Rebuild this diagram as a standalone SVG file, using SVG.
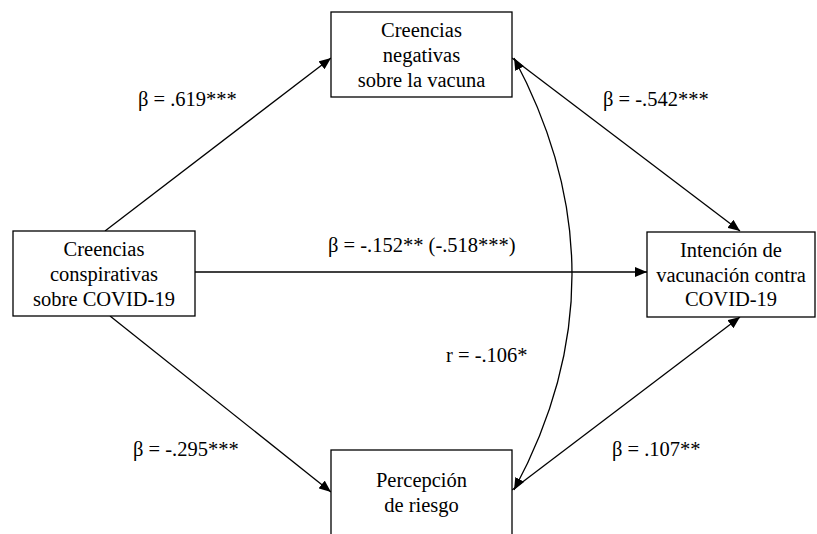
<svg xmlns="http://www.w3.org/2000/svg" width="817" height="534" viewBox="0 0 817 534">
<style>
.box{fill:#fff;stroke:#000;stroke-width:1.3}
.t{font-family:'Liberation Serif','Times New Roman','DejaVu Serif',serif;font-size:20.5px;fill:#000}
.c{text-anchor:middle}
.ln{fill:none;stroke:#000;stroke-width:1.3}
</style>
<defs>
<marker id="ah" viewBox="0 0 12 10" refX="12" refY="5" markerWidth="12" markerHeight="10" markerUnits="userSpaceOnUse" orient="auto-start-reverse">
<path d="M0,0 L12,5 L0,10 Z" fill="#000"/>
</marker>
</defs>
<rect width="817" height="534" fill="#fff"/>
<g id="connectors">
<line class="ln" x1="105" y1="231" x2="331" y2="58" marker-end="url(#ah)"/>
<line class="ln" x1="195" y1="272" x2="647" y2="272" marker-end="url(#ah)"/>
<line class="ln" x1="110" y1="316" x2="331" y2="492" marker-end="url(#ah)"/>
<line class="ln" x1="512" y1="58" x2="740" y2="231" marker-end="url(#ah)"/>
<line class="ln" x1="512" y1="490" x2="740" y2="317" marker-end="url(#ah)"/>
<path class="ln" d="M514,58 Q630,275 514,490" marker-start="url(#ah)" marker-end="url(#ah)"/>
</g>
<g id="n-negativas">
<rect class="box" x="331" y="12" width="181" height="85"/>
<text class="t c" x="421.5" y="37" font-family="Liberation Serif, serif">Creencias</text>
<text class="t c" x="421.5" y="62" font-family="Liberation Serif, serif">negativas</text>
<text class="t c" x="421.5" y="87" font-family="Liberation Serif, serif">sobre la vacuna</text>
</g>
<g id="n-conspirativas">
<rect class="box" x="13" y="231" width="182" height="85"/>
<text class="t c" x="104" y="256" font-family="Liberation Serif, serif">Creencias</text>
<text class="t c" x="104" y="281" font-family="Liberation Serif, serif">conspirativas</text>
<text class="t c" x="104" y="306" font-family="Liberation Serif, serif">sobre COVID-19</text>
</g>
<g id="n-intencion">
<rect class="box" x="647" y="232" width="168" height="85"/>
<text class="t c" x="731" y="257" font-family="Liberation Serif, serif">Intención de</text>
<text class="t c" x="731" y="282" font-family="Liberation Serif, serif">vacunación contra</text>
<text class="t c" x="731" y="306" font-family="Liberation Serif, serif">COVID-19</text>
</g>
<g id="n-percepcion">
<rect class="box" x="331" y="450" width="181" height="95"/>
<text class="t c" x="421.5" y="487" font-family="Liberation Serif, serif">Percepción</text>
<text class="t c" x="421.5" y="512" font-family="Liberation Serif, serif">de riesgo</text>
</g>
<g id="labels">
<text class="t" x="138" y="106" font-family="Liberation Serif, serif">β = .619***</text>
<text class="t" x="603" y="106" font-family="Liberation Serif, serif">β = -.542***</text>
<text class="t" x="328" y="252" font-family="Liberation Serif, serif">β = -.152** (-.518***)</text>
<text class="t" x="446" y="362" font-family="Liberation Serif, serif">r = -.106*</text>
<text class="t" x="133" y="456" font-family="Liberation Serif, serif">β = -.295***</text>
<text class="t" x="612" y="456" font-family="Liberation Serif, serif">β = .107**</text>
</g>
</svg>
